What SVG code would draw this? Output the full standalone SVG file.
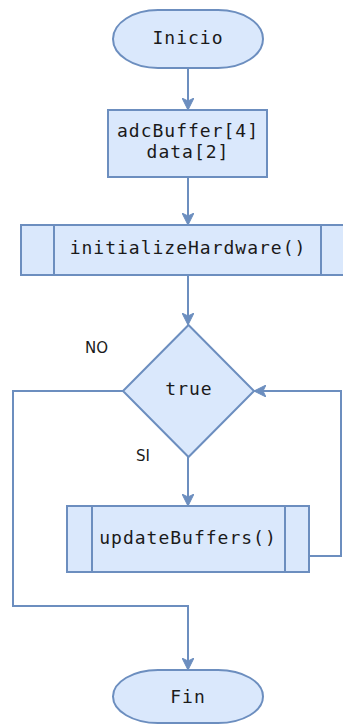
<svg xmlns="http://www.w3.org/2000/svg" width="343" height="725" viewBox="0 0 343 725">
<style>
.n{fill:#dae8fc;stroke:#6c8ebf;stroke-width:2}
.l{fill:none;stroke:#6c8ebf;stroke-width:2}
.t{font-family:"DejaVu Sans Mono","Liberation Mono",monospace;font-size:18px;letter-spacing:1px;fill:#1a1a1a;text-anchor:middle}
.s{font-family:"DejaVu Sans","Liberation Sans",sans-serif;font-size:15px;fill:#1a1a1a}
</style>
<defs>
<marker id="a" viewBox="0 0 12 12" refX="11" refY="6" markerWidth="12" markerHeight="12" markerUnits="userSpaceOnUse" orient="auto">
<path d="M0,0 L12,6 L0,12 L3,6 Z" fill="#6c8ebf" stroke="#6c8ebf" stroke-width="1"/>
</marker>
</defs>
<g id="connectors">
<path class="l" d="M188,68 V109" marker-end="url(#a)"/>
<path class="l" d="M188,177 V224" marker-end="url(#a)"/>
<path class="l" d="M188,275 V324" marker-end="url(#a)"/>
<path class="l" d="M188,457 V505" marker-end="url(#a)"/>
<path class="l" d="M309,556 H341 V391 H255" marker-end="url(#a)"/>
<path class="l" d="M123,391 H13 V606 H188 V669" marker-end="url(#a)"/>
</g>
<g id="inicio">
<rect class="n" x="113" y="10" width="150" height="58" rx="45" ry="29"/>
<text class="t" x="188" y="44">Inicio</text>
</g>
<g id="vars">
<rect class="n" x="108" y="110" width="159" height="67"/>
<text class="t" x="188" y="137">adcBuffer[4]</text>
<text class="t" x="188" y="158">data[2]</text>
</g>
<g id="init">
<rect class="n" x="21" y="225" width="334" height="50"/>
<path class="l" d="M54,225 V275 M321,225 V275"/>
<text class="t" x="188" y="254">initializeHardware()</text>
</g>
<g id="cond">
<path class="n" d="M188.5,325 L254,391 L188.5,457 L123,391 Z"/>
<text class="t" x="189" y="395">true</text>
</g>
<g id="update">
<rect class="n" x="67" y="506" width="242" height="66"/>
<path class="l" d="M92,506 V572 M285,506 V572"/>
<text class="t" x="188" y="544">updateBuffers()</text>
</g>
<g id="fin">
<rect class="n" x="113" y="670" width="150" height="53" rx="45" ry="26.5"/>
<text class="t" x="188" y="703">Fin</text>
</g>
<g id="labels">
<text class="s" x="85" y="353">NO</text>
<text class="s" x="136" y="461">SI</text>
</g>
</svg>
